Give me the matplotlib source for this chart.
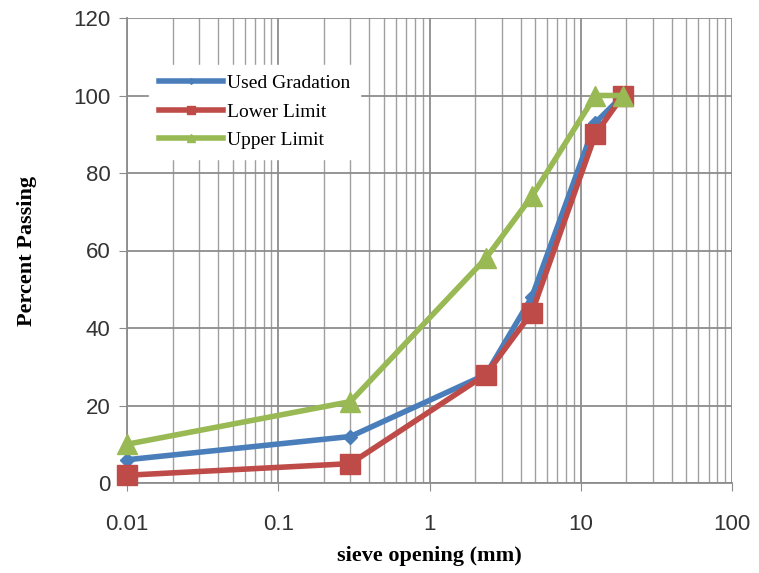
import matplotlib
matplotlib.use("Agg")
import matplotlib.pyplot as plt
from matplotlib.ticker import LogLocator, FixedLocator, NullFormatter

# sieve sizes (mm) and percent passing
sieve = [0.01, 0.3, 2.36, 4.75, 12.5, 19]
used = [6, 12, 28, 48, 93, 100]
lower = [2, 5, 28, 44, 90, 100]
upper = [10, 21, 58, 74, 100, 100]

x_ticks = [0.01, 0.1, 1, 10, 100]
x_labels = ["0.01", "0.1", "1", "10", "100"]
y_ticks = [0, 20, 40, 60, 80, 100, 120]

fig = plt.figure(figsize=(7.59, 5.73), dpi=100)
ax = fig.add_axes([127 / 759, 90 / 573, 605 / 759, 465 / 573])

ax.plot(sieve, used, "-D", color="#4a7ebb", lw=4, ms=7, label="Used Gradation",
        zorder=3, clip_on=False)
ax.plot(sieve, lower, "-s", color="#be4b48", lw=4, ms=15, label="Lower Limit",
        zorder=4, clip_on=False)
ax.plot(sieve, upper, "-^", color="#98b954", lw=4, ms=15, label="Upper Limit",
        zorder=5, clip_on=False)

ax.set_xscale("log")
ax.set_xlim(0.01, 100)
ax.set_ylim(0, 120)
ax.xaxis.set_major_locator(FixedLocator(x_ticks))
ax.set_xticklabels(x_labels)
ax.xaxis.set_minor_locator(LogLocator(base=10, subs=range(2, 10)))
ax.xaxis.set_minor_formatter(NullFormatter())
ax.set_yticks(y_ticks)

ax.grid(True, which="major", color="#8c8c8c", lw=1.3)
ax.grid(True, which="minor", axis="x", color="#a0a0a0", lw=1.0)
ax.set_axisbelow(True)

for s in ["top", "right"]:
    ax.spines[s].set_visible(False)
for s in ["left", "bottom"]:
    ax.spines[s].set_color("#8c8c8c")
    ax.spines[s].set_linewidth(1.3)

ax.tick_params(axis="both", which="major", direction="out", length=6,
               color="#8c8c8c", labelsize=16, labelcolor="#333333", pad=6)
ax.tick_params(axis="x", which="minor", direction="out", length=0)
ax.tick_params(axis="x", which="major", pad=16)
for lab in ax.get_xticklabels() + ax.get_yticklabels():
    lab.set_family("Liberation Sans")

ax.set_xlabel("sieve opening (mm)", family="Liberation Serif", fontweight="bold",
              fontsize=16, labelpad=8)
ax.set_ylabel("Percent Passing", family="Liberation Serif", fontweight="bold",
              fontsize=16, labelpad=26)

leg = ax.legend(loc="upper left", bbox_to_anchor=(0.02, 0.92), frameon=True,
                fancybox=False, edgecolor="white", framealpha=1,
                prop={"family": "Liberation Serif", "size": 14},
                markerscale=0.42, handlelength=3.3, handletextpad=0.2,
                labelspacing=0.55, borderpad=0.5)

fig.savefig("out.png", dpi=100)
